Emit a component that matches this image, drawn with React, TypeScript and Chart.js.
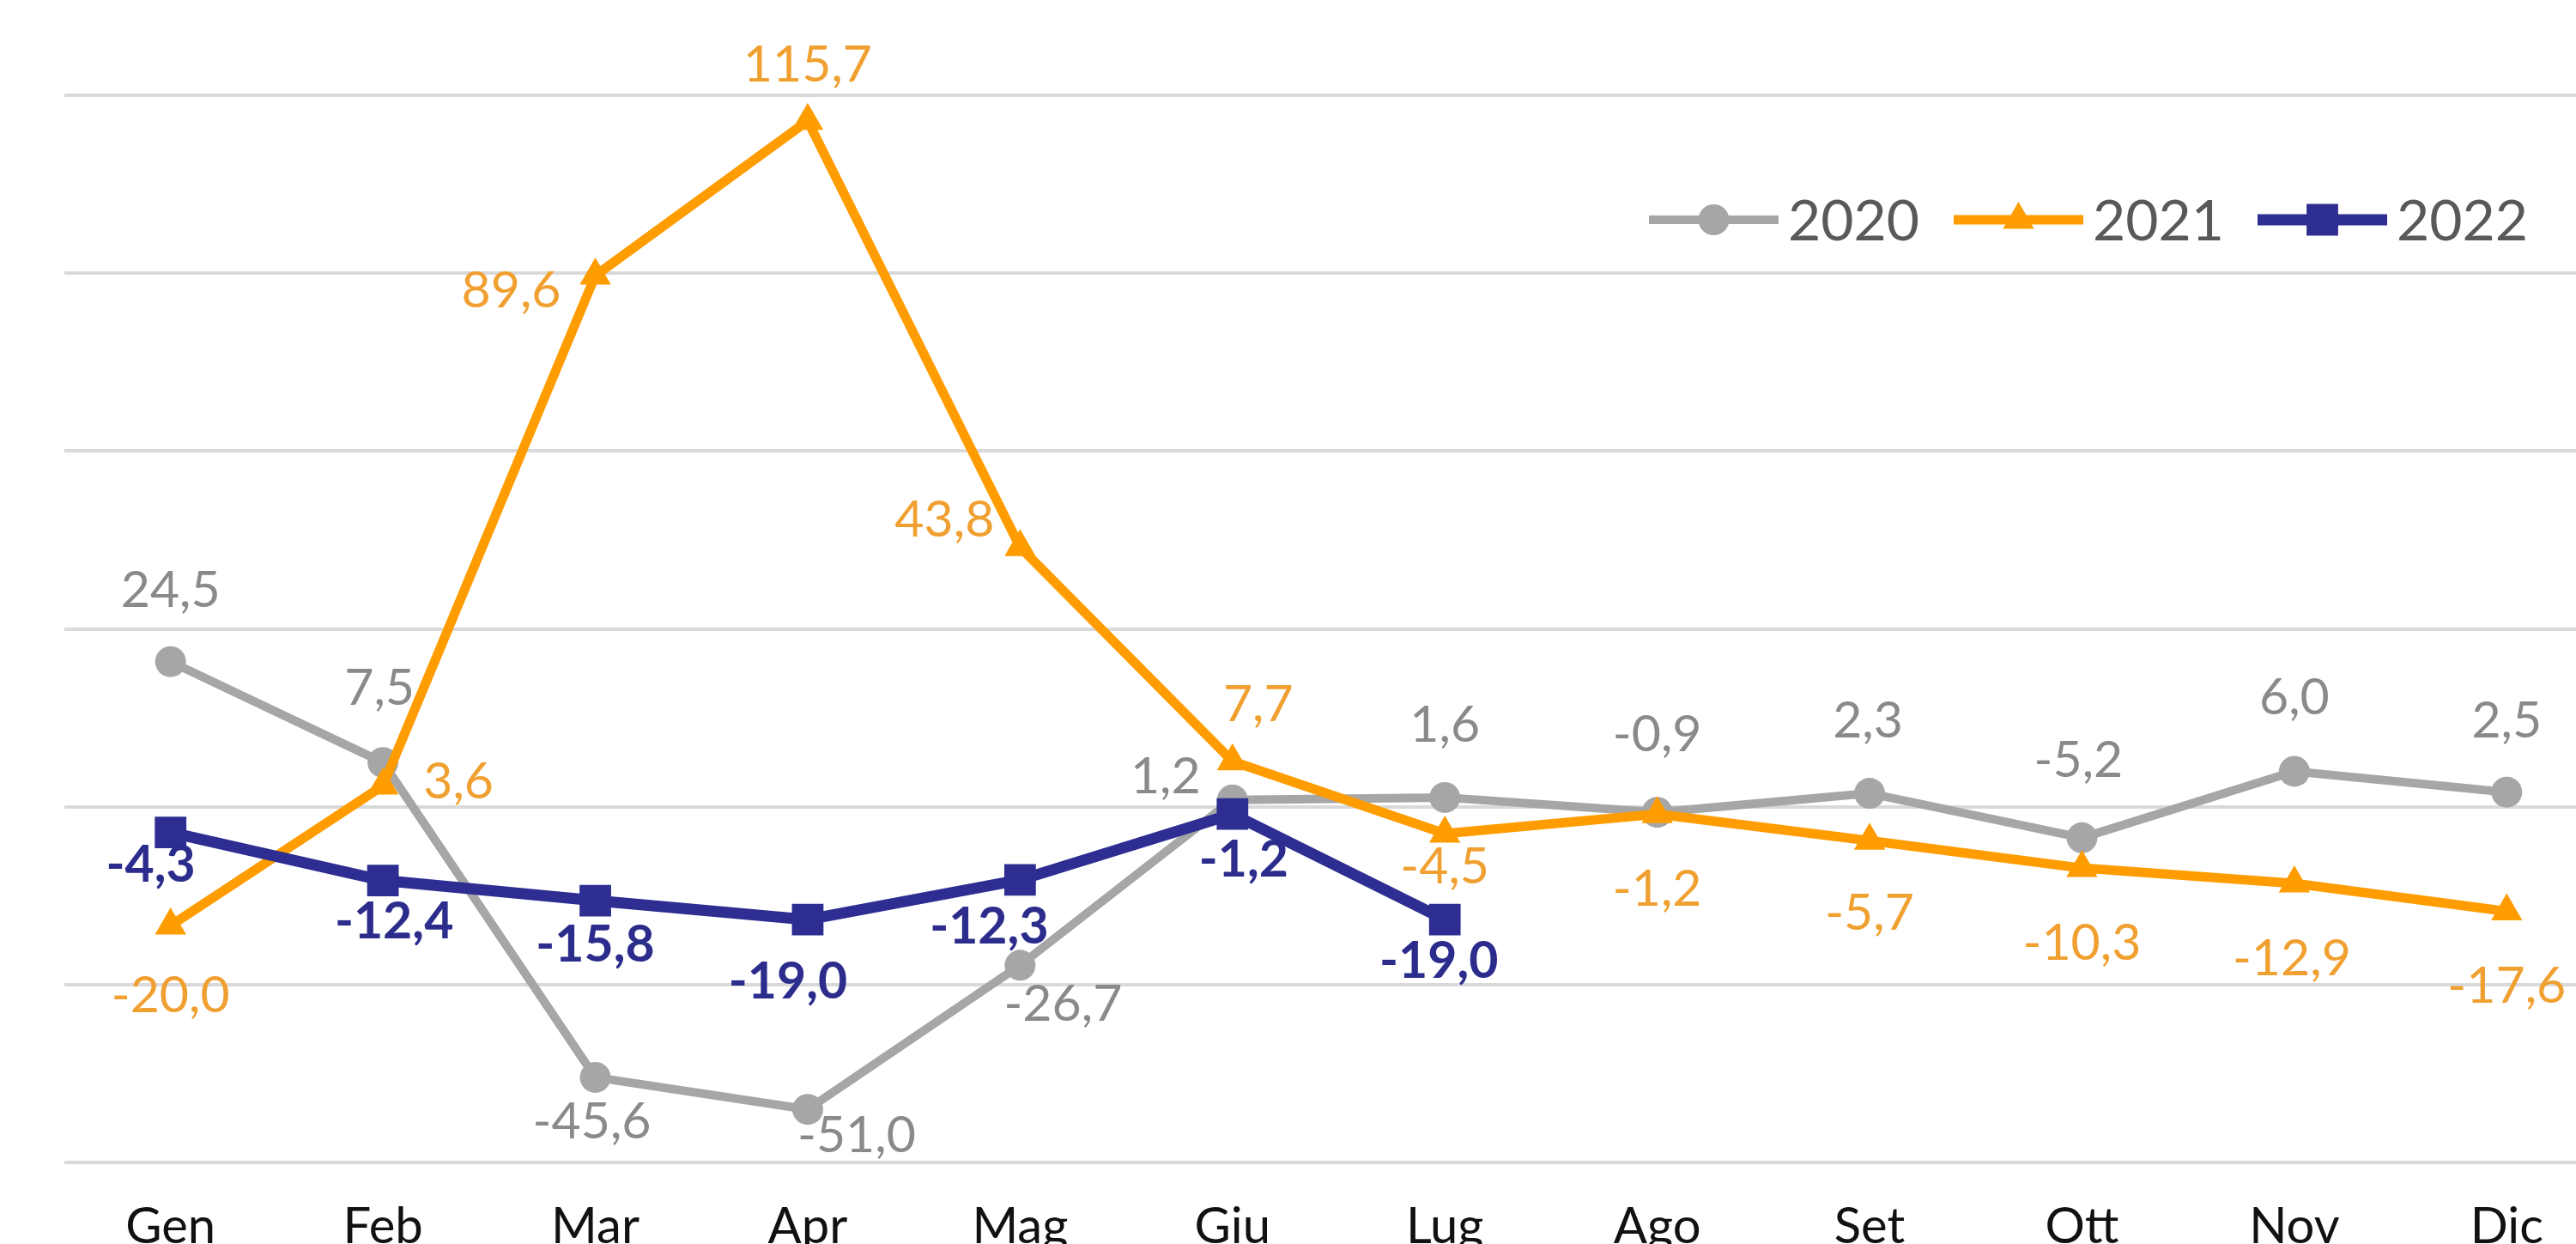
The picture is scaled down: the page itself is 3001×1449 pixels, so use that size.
import React, { useEffect, useRef } from 'react';
import { Chart, registerables } from 'chart.js';

Chart.register(...registerables);

// ---------- data ----------
const MONTHS = ['Gen', 'Feb', 'Mar', 'Apr', 'Mag', 'Giu', 'Lug', 'Ago', 'Set', 'Ott', 'Nov', 'Dic'];
const SERIES_NAMES = ['2020', '2021', '2022'];
const VALUES_2020 = [24.5, 7.5, -45.6, -51.0, -26.7, 1.2, 1.6, -0.9, 2.3, -5.2, 6.0, 2.5];
const VALUES_2021 = [-20.0, 3.6, 89.6, 115.7, 43.8, 7.7, -4.5, -1.2, -5.7, -10.3, -12.9, -17.6];
const VALUES_2022 = [-4.3, -12.4, -15.8, -19.0, -12.3, -1.2, -19.0];
const Y_TICKS = [-60, -30, 0, 30, 60, 90, 120];

// ---------- styles ----------
const FONT = 'Lato, "Open Sans", sans-serif';
const COLORS = ['#A6A6A6', '#FF9C00', '#2E2E92'];
const LABEL_COLORS = ['#8A8A8A', '#F0A030', '#2B2C8C'];
const LABEL_WEIGHTS = ['normal', 'normal', 'bold'];
const LINE_WIDTHS = [10, 11, 13];
const POINT_STYLES = ['circle', 'triangle', 'rect'];
const POINT_RADII = [18, 21, 26];
const LABEL_SIZE = 59;
// label offset (dx, dy) from the point to the label centre, per series
const OFFSETS_2020 = [[0, -85], [-4, -88], [-4, 50], [57, 29], [50, 44], [-78, -29], [0, -86], [0, -92], [-2, -86], [-4, -92], [0, -88], [0, -85]];
const OFFSETS_2021 = [[0, 80], [88, -6], [-98, 16], [0, -67], [-88, -33], [30, -68], [0, 37], [0, 86], [0, 83], [0, 86], [-3, 86], [0, 85]];
const OFFSETS_2022 = [[-23, 36], [13, 46], [0, 50], [-23, 71], [-36, 53], [13, 52], [-7, 47]];
const LABEL_OFFSETS = [OFFSETS_2020, OFFSETS_2021, OFFSETS_2022];

const CANVAS_W = 3070;
const CANVAS_H = 1504;

const fmt = (v: number) => v.toFixed(1).replace('.', ',');

const valueLabels = {
  id: 'valueLabels',
  afterDatasetsDraw(chart: any) {
    const ctx = chart.ctx;
    chart.data.datasets.forEach((ds: any, di: number) => {
      const meta = chart.getDatasetMeta(di);
      ctx.save();
      ctx.font = `${LABEL_WEIGHTS[di]} ${LABEL_SIZE}px ${FONT}`;
      ctx.fillStyle = LABEL_COLORS[di];
      ctx.textAlign = 'center';
      ctx.textBaseline = 'alphabetic';
      meta.data.forEach((pt: any, i: number) => {
        const v = ds.data[i];
        if (v === null || v === undefined) return;
        const off = LABEL_OFFSETS[di][i] || [0, 0];
        ctx.fillText(fmt(v), pt.x + off[0], pt.y + off[1] + LABEL_SIZE * 0.358);
      });
      ctx.restore();
    });
  },
};

function drawMarker(ctx: CanvasRenderingContext2D, style: string, x: number, y: number, r: number) {
  ctx.beginPath();
  if (style === 'circle') {
    ctx.arc(x, y, r, 0, Math.PI * 2);
  } else if (style === 'triangle') {
    ctx.moveTo(x, y - r);
    ctx.lineTo(x + r * Math.sin((2 * Math.PI) / 3), y + r * 0.5);
    ctx.lineTo(x - r * Math.sin((2 * Math.PI) / 3), y + r * 0.5);
    ctx.closePath();
  } else {
    const s = r * Math.SQRT1_2;
    ctx.rect(x - s, y - s, 2 * s, 2 * s);
  }
  ctx.fill();
}

const LEGEND_X = [1921, 2276, 2630];
const LEGEND_Y = 256;
const LEGEND_LINE = 151;
const LEGEND_FONT = 66;

const customLegend = {
  id: 'customLegend',
  afterDraw(chart: any) {
    const ctx = chart.ctx;
    ctx.save();
    chart.data.datasets.forEach((ds: any, di: number) => {
      const x0 = LEGEND_X[di];
      ctx.strokeStyle = COLORS[di];
      ctx.fillStyle = COLORS[di];
      ctx.lineWidth = LINE_WIDTHS[di];
      ctx.beginPath();
      ctx.moveTo(x0, LEGEND_Y);
      ctx.lineTo(x0 + LEGEND_LINE, LEGEND_Y);
      ctx.stroke();
      drawMarker(ctx, POINT_STYLES[di], x0 + LEGEND_LINE / 2, LEGEND_Y, POINT_RADII[di]);
      ctx.font = `normal ${LEGEND_FONT}px ${FONT}`;
      ctx.fillStyle = '#595959';
      ctx.textAlign = 'left';
      ctx.textBaseline = 'alphabetic';
      ctx.fillText(ds.label, x0 + LEGEND_LINE + 11, LEGEND_Y + LEGEND_FONT * 0.358);
    });
    ctx.restore();
  },
};

export default function App() {
  const ref = useRef<HTMLCanvasElement | null>(null);

  useEffect(() => {
    if (!ref.current) return;
    const series = [VALUES_2020, VALUES_2021, VALUES_2022];
    const chart = new Chart(ref.current, {
      type: 'line',
      data: {
        labels: MONTHS,
        datasets: series.map((vals, i) => ({
          label: SERIES_NAMES[i],
          data: vals,
          borderColor: COLORS[i],
          backgroundColor: COLORS[i],
          borderWidth: LINE_WIDTHS[i],
          pointStyle: POINT_STYLES[i] as any,
          pointRadius: POINT_RADII[i],
          pointBorderWidth: 0,
          pointBackgroundColor: COLORS[i],
          pointBorderColor: COLORS[i],
          tension: 0,
          fill: false,
          order: 2 - i,
          borderJoinStyle: 'round' as const,
          borderCapStyle: 'round' as const,
        })),
      },
      options: {
        responsive: false,
        animation: false,
        devicePixelRatio: 1,
        layout: { padding: { left: 75, top: 111, right: 0, bottom: 0 } },
        plugins: {
          legend: { display: false },
          tooltip: { enabled: false },
          title: { display: false },
        },
        scales: {
          x: {
            type: 'category',
            offset: true,
            grid: { display: false, drawTicks: false },
            border: { display: false },
            ticks: {
              color: '#111111',
              font: { family: FONT, size: 58 },
              padding: 40,
              maxRotation: 0,
              autoSkip: false,
            },
          },
          y: {
            min: Y_TICKS[0],
            max: Y_TICKS[Y_TICKS.length - 1],
            ticks: { display: false, stepSize: Y_TICKS[1] - Y_TICKS[0] },
            grid: { color: '#D9D9D9', lineWidth: 4, drawTicks: false },
            border: { display: false },
          },
        },
      },
      plugins: [valueLabels, customLegend],
    });
    return () => chart.destroy();
  }, []);

  return (
    <div
      style={{
        position: 'fixed',
        left: 0,
        top: 0,
        width: '100vw',
        height: '100vh',
        overflow: 'hidden',
        background: '#ffffff',
      }}
    >
      <canvas
        ref={ref}
        width={CANVAS_W}
        height={CANVAS_H}
        style={{ display: 'block', width: CANVAS_W, height: CANVAS_H }}
      />
    </div>
  );
}
